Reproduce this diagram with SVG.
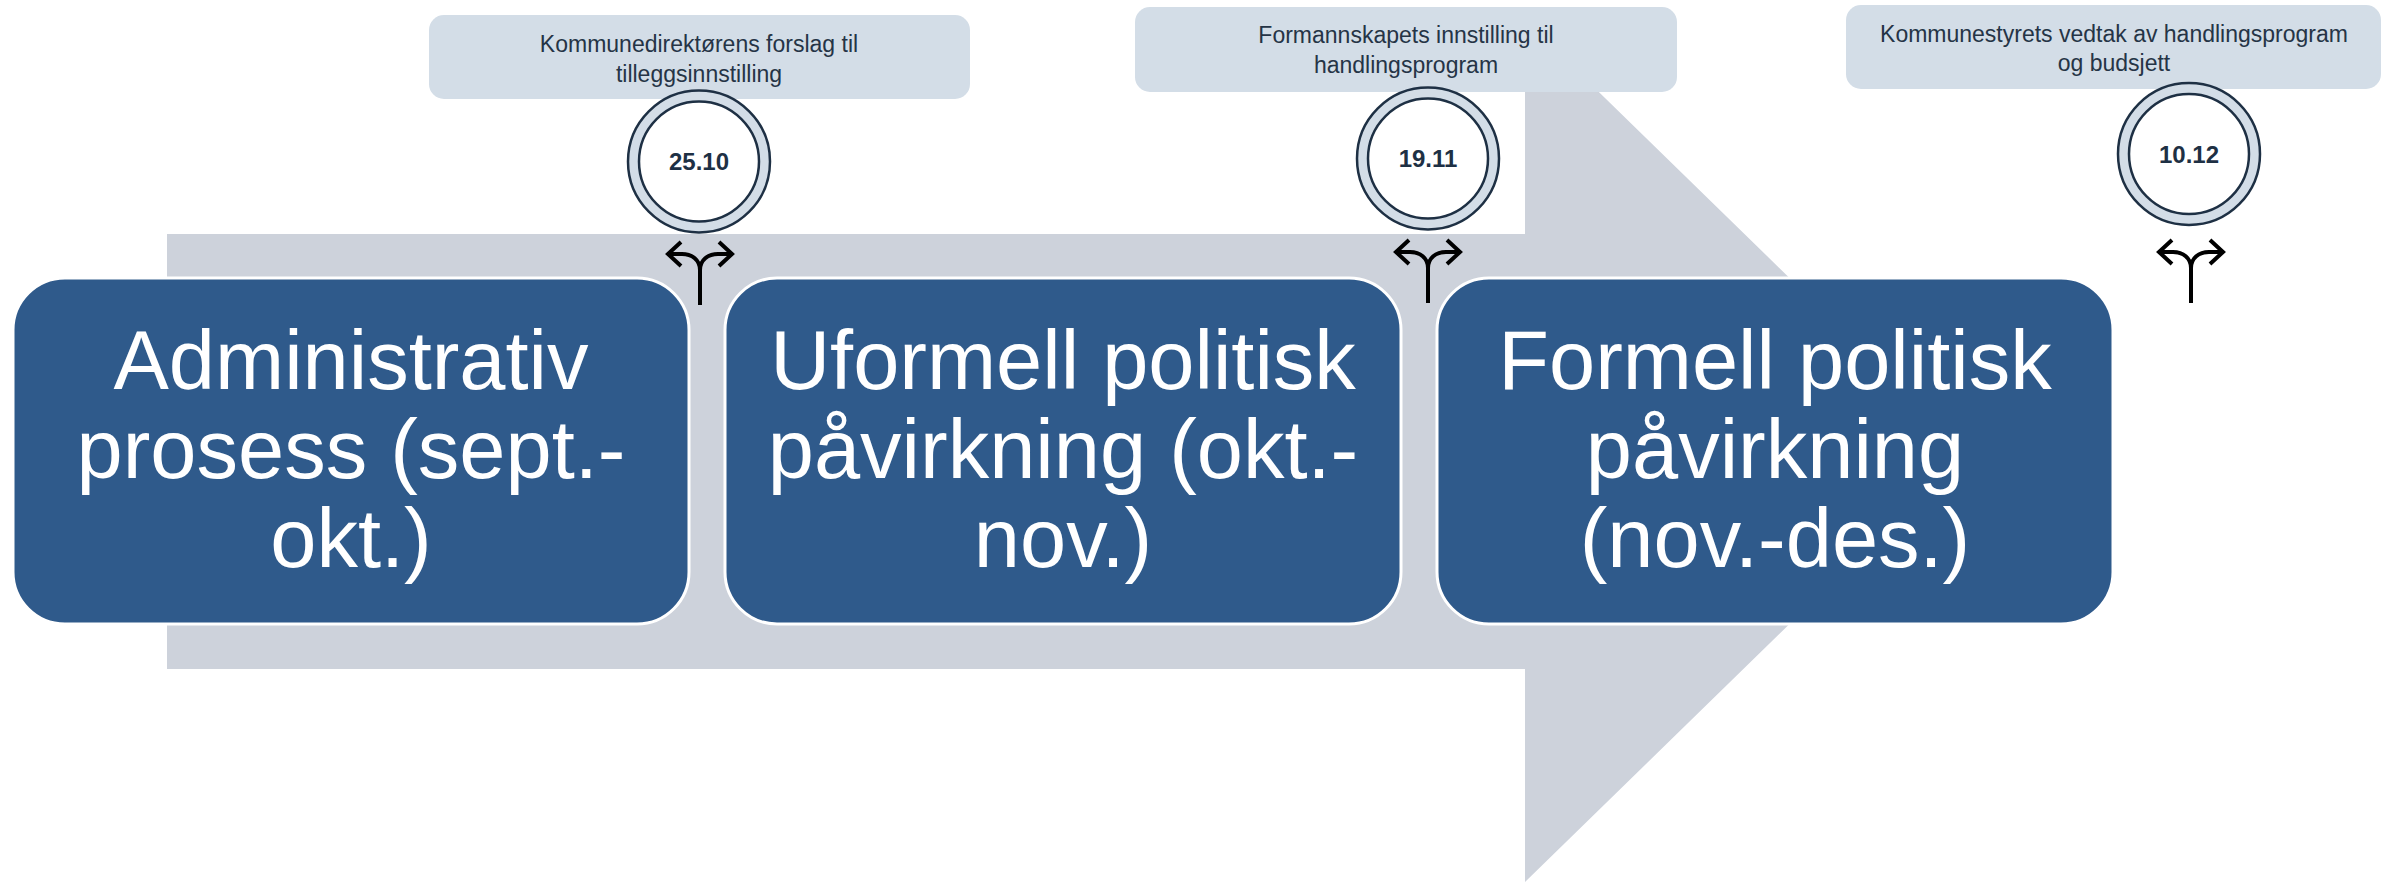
<svg xmlns="http://www.w3.org/2000/svg" xmlns:xlink="http://www.w3.org/1999/xlink" width="2385" height="882" viewBox="0 0 2385 882">
<style>
.band{fill:#cdd2db}
.phase{fill:#2f5a8b;stroke:#ffffff;stroke-width:3}
.phase-t{font-family:"Liberation Sans",Arial,sans-serif;font-size:83px;fill:#ffffff;text-anchor:middle}
.call{fill:#d3dde7}
.call-t{font-family:"Liberation Sans",Arial,sans-serif;font-size:23px;fill:#253446;text-anchor:middle}
.ring{fill:#d3dde7;stroke:#1e3044;stroke-width:2.5}
.core{fill:#ffffff;stroke:#1e3044;stroke-width:2.5}
.date{font-family:"Liberation Sans",Arial,sans-serif;font-size:24px;font-weight:bold;fill:#1e3044;text-anchor:middle}
.branch{fill:none;stroke:#000000;stroke-width:4;stroke-linejoin:miter}
</style>
<defs>
<path id="branchIcon" class="branch" d="M0,65 V30 C0,20 -8,14 -18,14 H-31 M-19,2 L-32,14 L-19,26 M0,30 C0,20 8,14 18,14 H31 M19,2 L32,14 L19,26"/>
</defs>
<rect width="2385" height="882" fill="#ffffff"/>
<g id="connectors">
<polygon id="timeline-arrow" class="band" points="167,234 1525,234 1525,20 1967,451 1525,882 1525,669 167,669"/>
</g>
<g id="phase1">
<rect class="phase" x="13" y="278" width="676" height="346" rx="52" ry="52"/>
<text class="phase-t"><tspan x="351" y="389">Administrativ</tspan><tspan x="351" y="478">prosess (sept.-</tspan><tspan x="351" y="567">okt.)</tspan></text>
</g>
<g id="phase2">
<rect class="phase" x="725" y="278" width="676" height="346" rx="52" ry="52"/>
<text class="phase-t"><tspan x="1063" y="389">Uformell politisk</tspan><tspan x="1063" y="478">påvirkning (okt.-</tspan><tspan x="1063" y="567">nov.)</tspan></text>
</g>
<g id="phase3">
<rect class="phase" x="1437" y="278" width="676" height="346" rx="52" ry="52"/>
<text class="phase-t"><tspan x="1775" y="389">Formell politisk</tspan><tspan x="1775" y="478">påvirkning</tspan><tspan x="1775" y="567">(nov.-des.)</tspan></text>
</g>
<g id="callout1">
<rect class="call" x="429" y="15" width="541" height="84" rx="15" ry="15"/>
<text class="call-t"><tspan x="699" y="52">Kommunedirektørens forslag til</tspan><tspan x="699" y="82">tilleggsinnstilling</tspan></text>
</g>
<g id="callout2">
<rect class="call" x="1135" y="7" width="542" height="85" rx="15" ry="15"/>
<text class="call-t"><tspan x="1406" y="43">Formannskapets innstilling til</tspan><tspan x="1406" y="73">handlingsprogram</tspan></text>
</g>
<g id="callout3">
<rect class="call" x="1846" y="5" width="535" height="84" rx="15" ry="15"/>
<text class="call-t"><tspan x="2114" y="42">Kommunestyrets vedtak av handlingsprogram</tspan><tspan x="2114" y="71">og budsjett</tspan></text>
</g>
<g id="milestone1">
<circle class="ring" cx="699" cy="161.5" r="71"/>
<circle class="core" cx="699" cy="161.5" r="60"/>
<text class="date" x="699" y="170">25.10</text>
</g>
<g id="milestone2">
<circle class="ring" cx="1428" cy="158.5" r="71"/>
<circle class="core" cx="1428" cy="158.5" r="60"/>
<text class="date" x="1428" y="167">19.11</text>
</g>
<g id="milestone3">
<circle class="ring" cx="2189" cy="154" r="71"/>
<circle class="core" cx="2189" cy="154" r="60"/>
<text class="date" x="2189" y="163">10.12</text>
</g>
<g id="branch1"><use xlink:href="#branchIcon" href="#branchIcon" x="700" y="240"/></g>
<g id="branch2"><use xlink:href="#branchIcon" href="#branchIcon" x="1428" y="238"/></g>
<g id="branch3"><use xlink:href="#branchIcon" href="#branchIcon" x="2191" y="238"/></g>
</svg>
